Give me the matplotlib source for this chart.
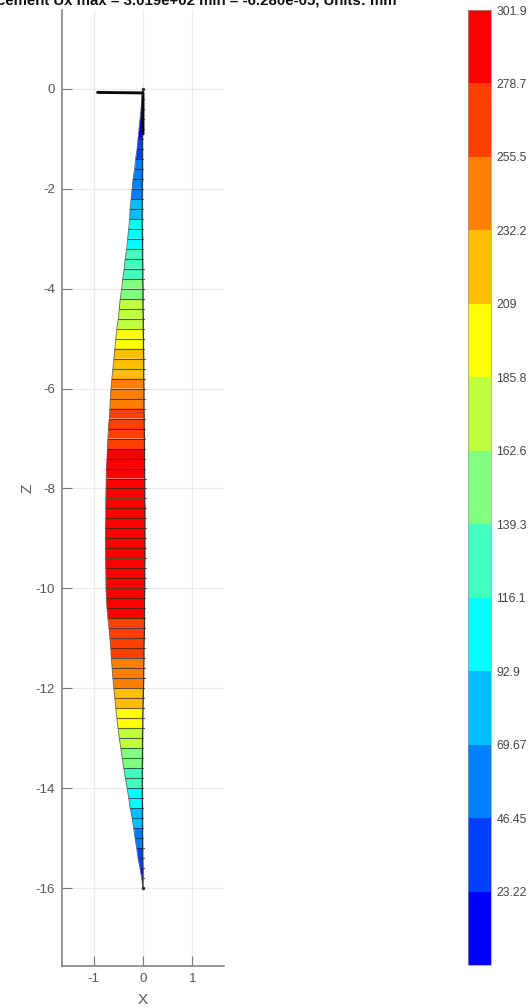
import numpy as np
import matplotlib
matplotlib.use('Agg')
import matplotlib.pyplot as plt
from matplotlib.colors import ListedColormap, BoundaryNorm

plt.rcParams['font.family'] = ['Liberation Sans', 'DejaVu Sans']
plt.rcParams['axes.unicode_minus'] = False

# node depth along the pile
z_nodes = [-0.2 * i for i in range(81)]
# Ux read per node (mm), picks the colour band of each element
ux = [0, 4, 9, 13, 20, 26, 36, 46, 54, 61, 66, 70, 81, 92, 101, 110, 118, 125, 133, 141,
      151, 161, 171, 180, 189, 198, 207, 215, 224, 233, 240, 248, 255, 261, 267, 274, 281,
      285, 288, 291, 294, 296, 298, 300, 301, 301.9, 301.5, 301, 300, 298, 296, 292, 287,
      280, 273, 267, 261, 255, 247, 240, 232, 221, 209, 197, 186, 174, 162, 151, 139, 128,
      116, 104, 93, 80, 68, 52, 41, 29, 20, 10, 0]
# left edge of the drawn diagram
left_x = [0, -.02, -.04, -.06, -.08, -.10, -.12, -.15, -.17, -.20, -.22, -.24, -.26, -.27, -.29,
          -.31, -.33, -.36, -.38, -.41, -.43, -.46, -.48, -.50, -.53, -.55, -.57, -.59, -.61, -.63,
          -.65, -.66, -.67, -.68, -.70, -.71, -.72, -.73, -.74, -.745, -.75, -.752, -.755, -.757, -.76,
          -.76, -.76, -.757, -.755, -.752, -.75, -.74, -.73, -.71, -.69, -.67, -.655, -.64, -.625, -.61,
          -.59, -.57, -.55, -.53, -.505, -.48, -.45, -.42, -.39, -.355, -.32, -.29, -.26, -.22, -.19,
          -.16, -.13, -.10, -.06, -.03, 0]
# right edge, bows slightly past the axis mid-span
right_x = [0, 0, 0, -.005, -.005, -.01, -.01, -.01, -.01, -.01, -.015, -.015, -.015, -.015, -.015,
           -.01, -.01, -.01, -.005, -.005, 0, 0, 0, .005, .005, .01, .01, .015, .015, .015,
           .02, .02, .02, .025, .025, .03, .03, .03, .03, .035, .035, .035, .04, .04, .04,
           .04, .04, .04, .035, .035, .035, .03, .03, .03, .03, .025, .02, .02, .015, .015,
           .01, .005, 0, -.005, -.005, -.01, -.01, -.01, -.015, -.015, -.015, -.015, -.01, -.01, -.01,
           -.01, -.005, -.005, 0, 0, 0]

band_edges = [0, 23.22, 46.45, 69.67, 92.9, 116.1, 139.3, 162.6, 185.8, 209, 232.2, 255.5, 278.7, 301.9]
band_labels = ['23.22', '46.45', '69.67', '92.9', '116.1', '139.3', '162.6', '185.8', '209', '232.2',
               '255.5', '278.7', '301.9']
band_colors = ['#0000ff', '#0040ff', '#0080ff', '#00bfff', '#00ffff', '#40ffbf', '#80ff80', '#bfff40',
               '#ffff00', '#ffbf00', '#ff8000', '#ff4000', '#ff0000']

x_ticks = [-1, 0, 1]
z_ticks = [-16, -14, -12, -10, -8, -6, -4, -2, 0]
arm_x = [-0.92, 0, 0]
arm_z = [-0.07, -0.08, -0.9]

cmap = ListedColormap(band_colors)
norm = BoundaryNorm(band_edges, cmap.N)

W, H = 530, 1008
fig = plt.figure(figsize=(W / 100, H / 100), dpi=100)
ax = fig.add_axes([62 / W, 1 - 966 / H, 162 / W, 956 / H])
gray = '#7a7a7a'

for i in range(80):
    val = (ux[i] + ux[i + 1]) / 2
    xs = [left_x[i], right_x[i], right_x[i + 1], left_x[i + 1]]
    zs = [z_nodes[i], z_nodes[i], z_nodes[i + 1], z_nodes[i + 1]]
    ax.fill(xs, zs, color=cmap(norm(val)), lw=0, zorder=3)
    ax.plot([left_x[i + 1], right_x[i + 1] + 0.02], [z_nodes[i + 1]] * 2, color='#222222', lw=0.8, alpha=0.7, zorder=4)
ax.plot(left_x, z_nodes, color='#666666', lw=0.6, zorder=4)
ax.plot(right_x, z_nodes, color='#333333', lw=0.9, zorder=4)
ax.plot(arm_x, arm_z, color='#0a0a0a', lw=2.1, solid_capstyle='round', zorder=5)
ax.plot([0, 0], [0, -16], ls='None', marker='o', ms=1.5, color='#333333', zorder=5)

ax.set_xlim(-1.64, 1.64)
ax.set_ylim(-17.56, 1.58)
ax.set_xticks(x_ticks)
ax.set_yticks(z_ticks)
ax.grid(True, color='#ececec', lw=0.8)
ax.set_axisbelow(True)
for side in ['top', 'right']:
    ax.spines[side].set_visible(False)
for side in ['left', 'bottom']:
    ax.spines[side].set_color(gray)
    ax.spines[side].set_linewidth(1.1)
ax.tick_params(direction='in', length=7, width=0.8, color=gray, labelcolor='#555555', labelsize=9.5, pad=5)
ax.set_xlabel('X', fontsize=11, color='#555555', labelpad=6)
ax.set_ylabel('Z', fontsize=11, color='#555555', labelpad=1)

fig.text(397 / W, 1 - 5 / H, 'Displacement Ux max = 3.019e+02 min = -6.280e-05, Units: mm',
         ha='right', va='baseline', fontsize=10.8, fontweight='bold', color='#111111')

cax = fig.add_axes([468 / W, 1 - 965 / H, 23 / W, 955 / H])
cax.pcolormesh([0, 1], band_edges, np.array(band_edges[:-1]).reshape(-1, 1) + 1, cmap=cmap, norm=norm)
cax.set_xticks([])
cax.yaxis.tick_right()
cax.set_yticks(band_edges[1:])
cax.set_yticklabels(band_labels)
cax.set_ylim(0, 301.9)
cax.tick_params(length=0, labelsize=8.8, labelcolor='#444444', pad=4)
for s in cax.spines.values():
    s.set_color('#999999')
    s.set_linewidth(0.5)

fig.savefig('out.png', dpi=100)
